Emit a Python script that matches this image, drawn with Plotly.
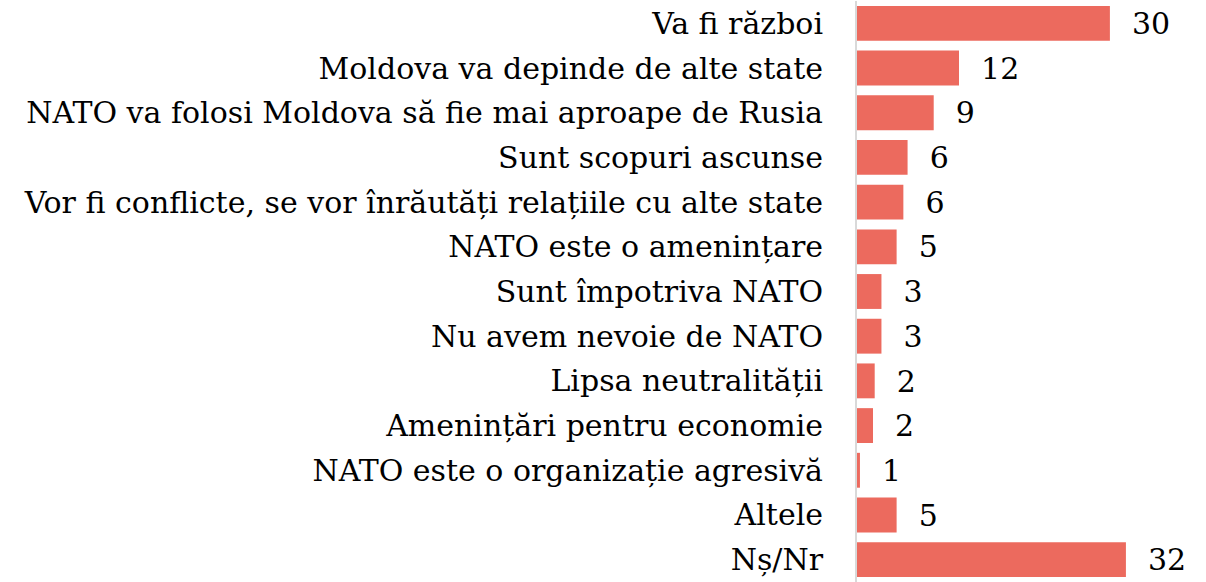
import plotly.graph_objects as go

categories = [
    "Va fi război",
    "Moldova va depinde de alte state",
    "NATO va folosi Moldova să fie mai aproape de Rusia",
    "Sunt scopuri ascunse",
    "Vor fi conflicte, se vor înrăutăți relațiile cu alte state",
    "NATO este o amenințare",
    "Sunt împotriva NATO",
    "Nu avem nevoie de NATO",
    "Lipsa neutralității",
    "Amenințări pentru economie",
    "NATO este o organizație agresivă",
    "Altele",
    "Nș/Nr",
]
values = [30, 12.1, 9.1, 6.0, 5.5, 4.7, 2.9, 2.9, 2.1, 1.9, 0.35, 4.7, 31.9]
value_labels = ["30", "12", "9", "6", "6", "5", "3", "3", "2", "2", "1", "5", "32"]

FONT = "DejaVu Serif"

fig = go.Figure(
    go.Bar(
        x=values,
        y=categories,
        orientation="h",
        marker=dict(color="#EC6A5E", line=dict(width=0)),
        text=["\u00a0\u00a0" + t for t in value_labels],
        textposition="outside",
        textfont=dict(family=FONT, size=31, color="#000000"),
        cliponaxis=False,
    )
)

fig.update_layout(
    width=1206,
    height=582,
    margin=dict(l=857, r=0, t=1, b=0, autoexpand=False),
    paper_bgcolor="white",
    plot_bgcolor="white",
    bargap=0.22,
    showlegend=False,
    font=dict(family=FONT, size=30, color="#000000"),
)
fig.update_xaxes(range=[0, 41.4], visible=False, showgrid=False, zeroline=False)
fig.update_yaxes(
    autorange="reversed",
    showline=True,
    linecolor="#D9D9D9",
    linewidth=2,
    showgrid=False,
    ticks="",
    ticklabelstandoff=26,
    tickfont=dict(family=FONT, size=30, color="#000000"),
)

fig.write_html(
    "out.html",
    config={"displayModeBar": False},
    post_script="document.body.style.margin='0px';",
)
